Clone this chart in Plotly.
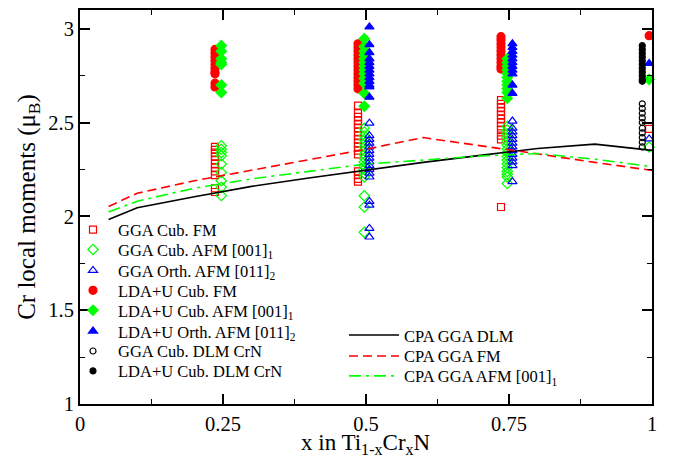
import plotly.graph_objects as go

# ---- DFT supercell results: Cr local moments (mu_B) per composition ----
gga_fm_x = [0.25] * 11 + [0.5] * 17 + [0.75] * 12 + [1.0]
gga_fm_m = [2.37, 2.355, 2.34, 2.32, 2.30, 2.28, 2.26, 2.24, 2.22, 2.15, 2.13,
            2.59, 2.55, 2.53, 2.51, 2.49, 2.47, 2.45, 2.43, 2.41, 2.39, 2.37, 2.35, 2.33, 2.24, 2.22, 2.20, 2.185,
            2.62, 2.60, 2.58, 2.56, 2.54, 2.52, 2.50, 2.48, 2.46, 2.43, 2.41, 2.05,
            2.466]

gga_afm1_x = [0.25] * 9 + [0.5] * 17 + [0.75] * 16 + [1.0]
gga_afm1_m = [2.376, 2.358, 2.34, 2.323, 2.279, 2.234, 2.19, 2.155, 2.111,
              2.47, 2.45, 2.43, 2.41, 2.39, 2.37, 2.35, 2.33, 2.31, 2.29, 2.27, 2.25, 2.23, 2.21, 2.11, 2.05, 1.915,
              2.48, 2.46, 2.44, 2.42, 2.40, 2.38, 2.36, 2.34, 2.32, 2.30, 2.28, 2.26, 2.24, 2.225, 2.21, 2.175,
              2.37]

gga_afm2_x = [0.5] * 17 + [0.75] * 13 + [1.0]
gga_afm2_m = [2.497, 2.43, 2.41, 2.39, 2.37, 2.35, 2.33, 2.31, 2.29, 2.27, 2.25, 2.23, 2.21, 2.08, 2.06, 1.936, 1.89,
              2.508, 2.47, 2.45, 2.43, 2.41, 2.39, 2.37, 2.35, 2.33, 2.31, 2.29, 2.27, 2.185,
              2.413]

ldau_fm_x = [0.25] * 10 + [0.5] * 13 + [0.75] * 10 + [1.0]
ldau_fm_m = [2.89, 2.87, 2.85, 2.83, 2.81, 2.79, 2.77, 2.76, 2.71, 2.69,
             2.92, 2.90, 2.88, 2.86, 2.84, 2.82, 2.80, 2.78, 2.76, 2.74, 2.72, 2.70, 2.68,
             2.958, 2.94, 2.92, 2.90, 2.88, 2.86, 2.84, 2.82, 2.80, 2.785,
             2.963]

ldau_afm1_x = [0.25] * 7 + [0.5] * 13 + [0.75] * 11 + [1.0]
ldau_afm1_m = [2.91, 2.88, 2.84, 2.82, 2.81, 2.70, 2.66,
               2.947, 2.905, 2.88, 2.86, 2.84, 2.82, 2.80, 2.78, 2.76, 2.735, 2.709, 2.656, 2.587,
               2.84, 2.82, 2.80, 2.78, 2.76, 2.74, 2.72, 2.70, 2.68, 2.66, 2.63,
               2.73]

ldau_afm2_x = [0.5] * 13 + [0.75] * 11 + [1.0]
ldau_afm2_m = [3.01, 2.915, 2.873, 2.84, 2.82, 2.80, 2.78, 2.76, 2.74, 2.72, 2.70, 2.69, 2.635,
               2.92, 2.90, 2.88, 2.86, 2.84, 2.82, 2.80, 2.78, 2.76, 2.70, 2.656,
               2.815]

gga_dlm_crn_x = [1.0] * 10
gga_dlm_crn_m = [2.60, 2.575, 2.55, 2.525, 2.50, 2.47, 2.445, 2.42, 2.395, 2.37]

ldau_dlm_crn_x = [1.0] * 11
ldau_dlm_crn_m = [2.91, 2.89, 2.87, 2.85, 2.83, 2.81, 2.79, 2.77, 2.75, 2.73, 2.72]

# ---- CPA (coherent potential approximation) curves ----
cpa_x = [0.05, 0.1, 0.2, 0.3, 0.4, 0.5, 0.6, 0.7, 0.8, 0.9, 1.0]
cpa_dlm = [1.983, 2.046, 2.105, 2.160, 2.205, 2.248, 2.288, 2.325, 2.362, 2.385, 2.352]
cpa_fm = [2.053, 2.123, 2.19, 2.245, 2.30, 2.358, 2.42, 2.378, 2.333, 2.288, 2.245]
cpa_afm = [2.023, 2.081, 2.15, 2.20, 2.24, 2.279, 2.30, 2.322, 2.335, 2.305, 2.265]

x_ticks = [0, 0.25, 0.5, 0.75, 1]
x_tick_text = ["0", "0.25", "0.5", "0.75", "1"]
y_ticks = [1, 1.5, 2, 2.5, 3]
y_tick_text = ["1", "1.5", "2", "2.5", "3"]

RED, GREEN, BLUE, BLACK = "#ff0000", "#00ff00", "#0000ff", "#000000"
FONT = "Liberation Serif"


def nudged(xs, dx, dx_end=-0.005):
    """Spread the magnetic configurations sideways so the columns stay readable."""
    return [x + (dx if x < 1 else dx_end) for x in xs]


fig = go.Figure()

marker_sets = [
    ("GGA Cub. FM", gga_fm_x, gga_fm_m, -0.014, "square-open", RED, 7),
    ("GGA Cub. AFM [001]<sub>1</sub>", gga_afm1_x, gga_afm1_m, -0.003, "diamond-open", GREEN, 8),
    ("GGA Orth. AFM [011]<sub>2</sub>", gga_afm2_x, gga_afm2_m, 0.006, "triangle-up-open", BLUE, 8),
    ("LDA+U Cub. FM", ldau_fm_x, ldau_fm_m, -0.014, "circle", RED, 8),
    ("LDA+U Cub. AFM [001]<sub>1</sub>", ldau_afm1_x, ldau_afm1_m, -0.003, "diamond", GREEN, 8),
    ("LDA+U Orth. AFM [011]<sub>2</sub>", ldau_afm2_x, ldau_afm2_m, 0.006, "triangle-up", BLUE, 8),
    ("GGA Cub. DLM CrN", gga_dlm_crn_x, gga_dlm_crn_m, -0.017, "circle-open", BLACK, 6),
    ("LDA+U Cub. DLM CrN", ldau_dlm_crn_x, ldau_dlm_crn_m, -0.017, "circle", BLACK, 6),
]

legend_rows_px = [229, 249, 270, 290, 310, 331, 351, 371]

for i, (name, xs, ms, dx, sym, col, size) in enumerate(marker_sets):
    end_dx = dx if "DLM" in name else -0.005
    fig.add_trace(go.Scatter(
        x=nudged(xs, dx, end_dx), y=ms, mode="markers", name=name,
        marker=dict(symbol=sym, color=col, size=size, line=dict(color=col, width=1.2)),
        cliponaxis=False, legend=f"legend{i + 1}" if i else "legend",
    ))

line_sets = [
    ("CPA GGA DLM", cpa_dlm, BLACK, "solid"),
    ("CPA GGA FM", cpa_fm, RED, "9px,5px"),
    ("CPA GGA AFM [001]<sub>1</sub>", cpa_afm, GREEN, "12px,5px,3px,5px"),
]
line_rows_px = [335, 356, 376]

for j, (name, vals, col, dash) in enumerate(line_sets):
    fig.add_trace(go.Scatter(
        x=cpa_x, y=vals, mode="lines", name=name,
        line=dict(color=col, width=1.6, dash=dash),
        legend=f"legend{9 + j}",
    ))

# plot area in pixels: left 80, right 652, top 8, bottom 404
PL, PW, PT, PH = 80, 572, 8, 396

legend_font = dict(family=FONT, size=16.5, color="black")
layout_legends = {}
for i, ypx in enumerate(legend_rows_px):
    key = f"legend{i + 1}" if i else "legend"
    layout_legends[key] = dict(
        x=(88 - 20 - PL) / PW, y=(PT + PH - ypx) / PH, xanchor="left", yanchor="middle",
        bgcolor="rgba(0,0,0,0)", borderwidth=0, itemwidth=40, font=legend_font,
        itemclick=False, itemdoubleclick=False,
    )
for j, ypx in enumerate(line_rows_px):
    layout_legends[f"legend{9 + j}"] = dict(
        x=(349 - 5 - PL) / PW, y=(PT + PH - ypx) / PH, xanchor="left", yanchor="middle",
        bgcolor="rgba(0,0,0,0)", borderwidth=0, itemwidth=50, font=legend_font,
        itemclick=False, itemdoubleclick=False,
    )

axis_common = dict(
    showline=True, linecolor="black", linewidth=2, mirror="ticks",
    ticks="inside", ticklen=10, tickwidth=1.5, tickcolor="black",
    showgrid=False, zeroline=False,
    tickfont=dict(family=FONT, size=20.5, color="black"),
)

fig.update_layout(
    width=673, height=461,
    margin=dict(l=PL, r=673 - PL - PW, t=PT, b=461 - PT - PH),
    paper_bgcolor="white", plot_bgcolor="white",
    font=dict(family=FONT, color="black"),
    showlegend=True,
    xaxis=dict(
        range=[0, 1], tickvals=x_ticks, ticktext=x_tick_text,
        minor=dict(dtick=0.125, tick0=0, ticks="inside", ticklen=5, tickcolor="black", tickwidth=1.2),
        **axis_common,
    ),
    yaxis=dict(
        range=[1, 3.1], tickvals=y_ticks, ticktext=y_tick_text,
        minor=dict(dtick=0.25, tick0=1, ticks="inside", ticklen=5, tickcolor="black", tickwidth=1.2),
        title=dict(text="Cr local moments (μ<sub>B</sub>)", font=dict(family=FONT, size=25), standoff=6),
        **axis_common,
    ),
    annotations=[dict(
        text="x in Ti<sub>1-x</sub>Cr<sub>x</sub>N", xref="paper", yref="paper",
        x=0.5, y=-(428 - PT - PH) / PH, xanchor="center", yanchor="top",
        showarrow=False, font=dict(family=FONT, size=23, color="black"),
    )],
    **layout_legends,
)

fig.write_html("out.html")
